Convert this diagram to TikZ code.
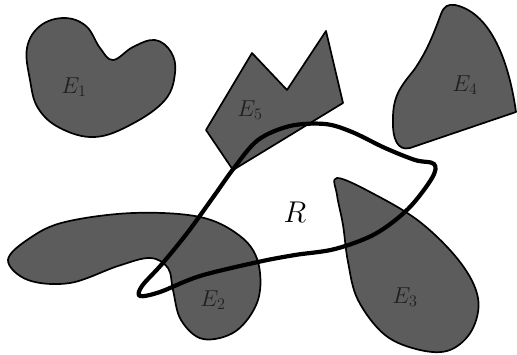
\RequirePackage{fix-cm}
\documentclass[tikz,border=0pt]{standalone}
\begin{document}
\begin{tikzpicture}[x=1pt,y=-1pt,
  region/.style={fill=black!64,draw=black,line width=1.7pt,line join=round},
  rcurve/.style={draw=black,line width=4.2pt,line join=round,line cap=round},
  elabel/.style={font=\fontsize{23}{27}\selectfont,text=black!88},
  rlabel/.style={font=\fontsize{30}{34}\selectfont}]
\useasboundingbox (0,0) rectangle (517,355);
% E1
\draw[region] plot[smooth cycle,tension=0.65] coordinates {
 (27,48) (40,26) (64,18) (86,26) (100,48) (113,60) (133,47) (155,40) (171,52) (175,73)
 (165,100) (132,124) (95,137) (60,128) (38,108) (30,80)};
% E5 polygon
\draw[region] (206,130) -- (252,53) -- (287,90) -- (326,31) -- (343,103) -- (233,170) -- cycle;
% E4
\draw[region] (516,112) -- (410,148) .. controls (398,151) and (392,140) .. (393,118)
  .. controls (393,95) and (402,85) .. (414,70) .. controls (428,50) and (435,30) .. (441,14)
  .. controls (444,6) and (448,4) .. (455,5) .. controls (488,12) and (508,55) .. (516,112) -- cycle;
% E2
\draw[region] plot[smooth cycle,tension=0.6] coordinates {
 (8,260) (30,238) (65,222) (133,213) (200,217) (240,236) (258,262) (258,300)
 (236,331) (203,339) (181,320) (173,290) (168,268) (150,258) (118,266) (70,283) (28,280)};
% E3
\draw[region] plot[smooth cycle,tension=0.6] coordinates {
 (337,178) (372,193) (420,222) (460,262) (478,298) (472,330) (450,350) (420,350)
 (385,335) (358,300) (348,262) (343,225) (337,195)};
% R boundary
\draw[rcurve] plot[smooth cycle,tension=0.55] coordinates {
 (140,296) (142,286) (162,264) (188,232) (214,196) (234,168) (258,140) (290,126) (325,124)
 (352,132) (385,148) (415,160) (434,164) (432,178) (408,209) (375,234) (335,249) (295,255)
 (258,262) (200,276) (160,292)};
% labels
\node[elabel] (e1) at (74,87) {$E_1$};
\node[elabel] (e5) at (250,110) {$E_5$};
\node[elabel] (e4) at (465,85) {$E_4$};
\node[elabel] (e2) at (213,300) {$E_2$};
\node[elabel] (e3) at (405,297) {$E_3$};
\node[rlabel] (r) at (295,212) {$R$};
\end{tikzpicture}
\end{document}
